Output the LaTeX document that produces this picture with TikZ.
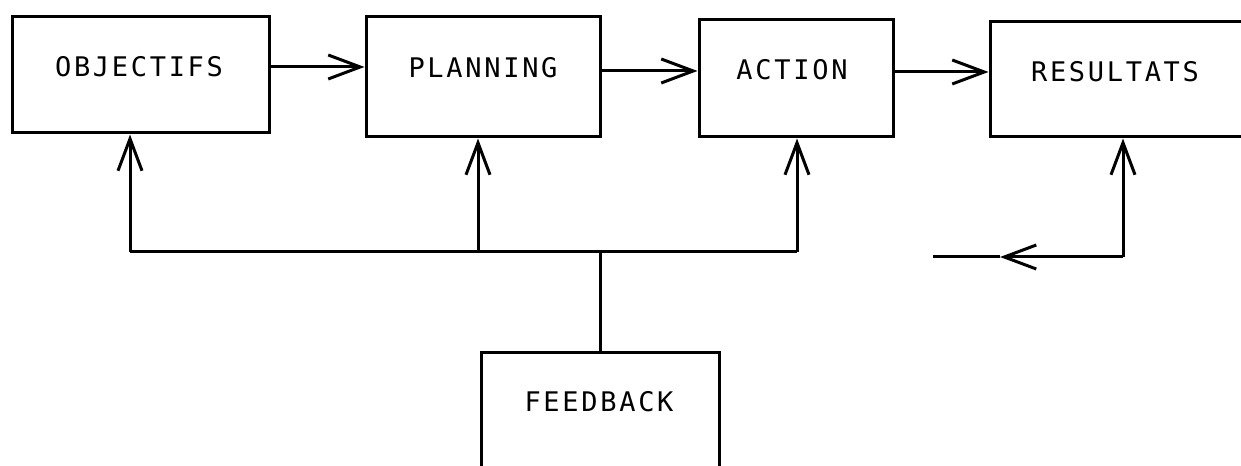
\documentclass[tikz,border=0pt]{standalone}
\usepackage{fontspec}
\newfontfamily\lblfont[LetterSpace=10]{DejaVu Sans Mono}
\usetikzlibrary{arrows.meta}
\begin{document}
\begin{tikzpicture}[x=1bp,y=-1bp,line width=3bp,
  box/.style={draw,inner sep=0pt},
  lbl/.style={inner sep=0pt,font=\lblfont\fontsize{27bp}{30bp}\selectfont},
  arr/.style={-{Straight Barb[length=32bp,width=24bp]}}]
\useasboundingbox (0,0) rectangle (1241,466);
% boxes
\node[box,minimum width=256bp,minimum height=116bp] (obj) at (141,75) {};
\node[box,minimum width=234bp,minimum height=120bp] (plan) at (483,77) {};
\node[box,minimum width=194bp,minimum height=117bp] (act) at (796,78.5) {};
\node[box,minimum width=260bp,minimum height=115bp] (res) at (1120,79.5) {};
\node[box,minimum width=238bp,minimum height=127bp] (feed) at (600,416.5) {};
% labels
\node[lbl] (objt) at (139,67) {OBJECTIFS};
\node[lbl] (plant) at (483,68) {PLANNING};
\node[lbl] (actt) at (792,70) {ACTION};
\node[lbl] (rest) at (1115,72) {RESULTATS};
\node[lbl] (feedt) at (599,402) {FEEDBACK};
% forward arrows
\draw[arr] (objt -| obj.east) -- (objt -| plan.west);
\draw[arr] (plant.east |- 0,71) coordinate (p1) (p1 -| plan.east) -- (p1 -| act.west);
\draw[arr] (rest.west |- 0,72) coordinate (p2) (p2 -| act.east) -- (p2 -| res.west);
% feedback bus
\coordinate (f1) at (130,252);
\coordinate (f2) at (478,252);
\coordinate (f0) at (600,252);
\coordinate (f3) at (797,252);
\draw (f1) -- (f3);
\draw (feed.north) -- (f0);
\draw[arr] (f1) -- (f1 |- obj.south);
\draw[arr] (f2) -- (f2 |- plan.south);
\draw[arr] (f3) -- (f3 |- act.south);
% results loop
\coordinate (g1) at (1123,257);
\coordinate (g2) at (1000,257);
\coordinate (g3) at (933,257);
\draw[arr] (g1) -- (g1 |- res.south);
\draw[arr] (g1) -- (g2);
\draw (g2) -- (g3);
\end{tikzpicture}
\end{document}
